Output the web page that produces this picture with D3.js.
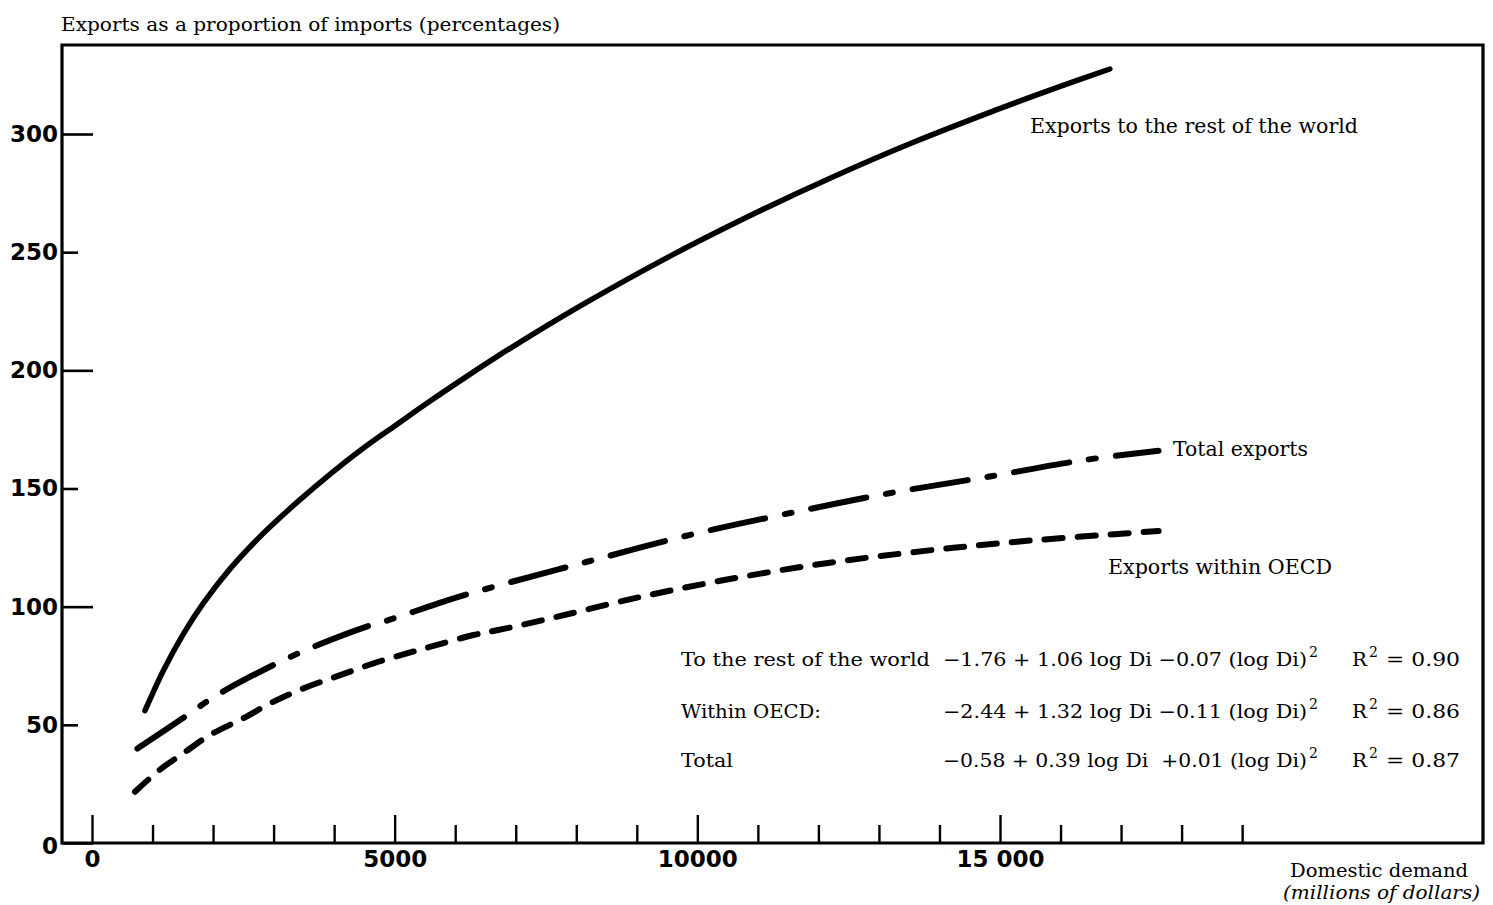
<!DOCTYPE html>
<html>
<head>
<meta charset="utf-8">
<script src="https://cdn.jsdelivr.net/npm/d3@7"></script>
<style>
  html, body { margin: 0; padding: 0; background: #fff; }
  svg { display: block; }
  text { white-space: pre; }
</style>
</head>
<body>
<svg id="chart" width="1493" height="905"></svg>
<script>
// ---------------- DATA ----------------
// Domestic demand (millions of dollars) and exports as % of imports
const restOfWorldX = [875, 1180, 1510, 1840, 2280, 2830, 3380, 3930, 4480, 5030, 5580, 6130, 6690, 7240, 8110, 9480, 10850, 12220, 13590, 14960, 15640, 16815];
const restOfWorldY = [56, 73, 88.5, 101.5, 116, 131, 144, 156, 167, 177, 186.9, 196.4, 205.8, 214.6, 227.9, 247.4, 265.2, 281.6, 296.7, 310.4, 316.9, 327.5];

const totalX = [750, 1510, 2060, 3050, 3660, 4590, 4920, 5910, 6650, 8180, 9820, 11420, 13170, 14810, 16380, 17620];
const totalY = [40, 53, 62.5, 76, 83, 92, 94.5, 103, 108.5, 119, 130, 139, 148, 155, 162, 166];

const oecdX = [710, 1120, 1510, 1950, 2500, 3000, 3550, 4100, 4650, 5200, 5700, 6300, 6690, 7480, 9040, 10600, 12160, 13720, 15280, 17620];
const oecdY = [21.7, 31, 38, 45.7, 52.8, 59.8, 66, 71, 76, 80.2, 83.8, 88, 90, 94.5, 104, 112, 118.5, 123.5, 127.5, 132];

const yTicks = [0, 50, 100, 150, 200, 250, 300];
const xTicks = d3.range(0, 19001, 1000);
const xTickLabels = {0: "0", 5000: "5000", 10000: "10000", 15000: "15 000"};

const titleText = "Exports as a proportion of imports (percentages)";
const xTitle1 = "Domestic demand";
const xTitle2 = "(millions of dollars)";
const seriesLabels = ["Exports to the rest of the world", "Total exports", "Exports within OECD"];

const eqNames = ["To the rest of the world", "Within OECD:", "Total"];
const eqFormulas = ["\u22121.76 + 1.06 log Di \u22120.07 (log Di)", "\u22122.44 + 1.32 log Di \u22120.11 (log Di)", "\u22120.58 + 0.39 log Di  +0.01 (log Di)"];
const eqR2 = ["0.90", "0.86", "0.87"];

// ---------------- LAYOUT ----------------
const svg = d3.select("#chart");
const frame = {left: 62, right: 1483, top: 45, bottom: 843};
const x = d3.scaleLinear().domain([0, 15000]).range([92, 1000]);
const y = d3.scaleLinear().domain([0, 300]).range([843, 134]);

const serif = "'DejaVu Serif', 'Liberation Serif', serif";
const digits = "'DejaVu Sans', sans-serif";

svg.append("rect").attr("width", 1493).attr("height", 905).attr("fill", "#fff");

// frame
svg.append("path")
  .attr("d", `M${frame.left},${frame.top}H${frame.right}V${frame.bottom}H${frame.left}Z`)
  .attr("fill", "none").attr("stroke", "#000").attr("stroke-width", 3.2);

// y axis
const yAxisG = svg.append("g")
  .attr("transform", `translate(${frame.left},0)`)
  .call(d3.axisLeft(y).tickValues(yTicks).tickSizeInner(-30).tickSizeOuter(0).tickPadding(4));
yAxisG.select(".domain").remove();
yAxisG.selectAll(".tick line")
  .attr("stroke", "#000").attr("stroke-width", 2.6)
  .attr("x2", d => (d % 100 === 0 ? 31 : 16));
yAxisG.selectAll(".tick text")
  .attr("font-family", digits).attr("font-weight", "bold").attr("font-size", 23)
  .attr("fill", "#000");
yAxisG.selectAll(".tick").filter(d => d === 0).select("text").attr("dy", "0.45em");

// x axis
const xAxisG = svg.append("g")
  .attr("transform", `translate(0,${frame.bottom})`)
  .call(d3.axisBottom(x).tickValues(xTicks).tickSizeInner(-18).tickSizeOuter(0).tickPadding(8)
    .tickFormat(d => xTickLabels[d] || ""));
xAxisG.select(".domain").remove();
xAxisG.selectAll(".tick line")
  .attr("stroke", "#000").attr("stroke-width", 2.4)
  .attr("y2", d => (d % 5000 === 0 ? -28 : -18));
xAxisG.selectAll(".tick text")
  .attr("font-family", digits).attr("font-weight", "bold").attr("font-size", 23)
  .attr("fill", "#000");

// lines
const line = d3.line().x(d => x(d[0])).y(d => y(d[1])).curve(d3.curveCatmullRom.alpha(0.5));
const zip = (a, b) => a.map((v, i) => [v, b[i]]);

svg.append("path").datum(zip(restOfWorldX, restOfWorldY))
  .attr("d", line).attr("fill", "none").attr("stroke", "#000")
  .attr("stroke-width", 5.5).attr("stroke-linecap", "round");

svg.append("path").datum(zip(totalX, totalY))
  .attr("d", line).attr("fill", "none").attr("stroke", "#000")
  .attr("stroke-width", 6).attr("stroke-linecap", "round")
  .attr("stroke-dasharray", "56 20 7 20");

svg.append("path").datum(zip(oecdX, oecdY))
  .attr("d", line).attr("fill", "none").attr("stroke", "#000")
  .attr("stroke-width", 6).attr("stroke-linecap", "round")
  .attr("stroke-dasharray", "18 15");

// texts
function addText(str, tx, ty, width, size, opts = {}) {
  const t = svg.append("text")
    .attr("x", tx).attr("y", ty)
    .attr("font-family", opts.family || serif)
    .attr("font-size", size)
    .attr("font-style", opts.italic ? "italic" : "normal")
    .attr("fill", "#000")
    .text(str);
  if (width) t.attr("textLength", width).attr("lengthAdjust", "spacingAndGlyphs");
  return t;
}

addText(titleText, 61, 31, 499, 19);
addText(xTitle1, 1290, 877, 178, 18.5);
addText(xTitle2, 1283, 899, 197, 18.5, {italic: true});

addText(seriesLabels[0], 1030, 133, 328, 19.5);
addText(seriesLabels[1], 1173, 456, 135, 19.5);
addText(seriesLabels[2], 1108, 574, 224, 19.5);

// equations
const eqBase = [666, 718, 767];
const nameW = [249, 140, 52];
eqNames.forEach((n, i) => {
  addText(n, 681, eqBase[i], nameW[i], 19);
  addText(eqFormulas[i], 943, eqBase[i], 364, 19);
  addText("2", 1309, eqBase[i] - 9, null, 14);
  addText("R", 1352, eqBase[i], 15, 19);
  addText("2", 1369, eqBase[i] - 9, null, 14);
  addText("= " + eqR2[i], 1386, eqBase[i], 74, 19);
});
</script>
</body>
</html>
